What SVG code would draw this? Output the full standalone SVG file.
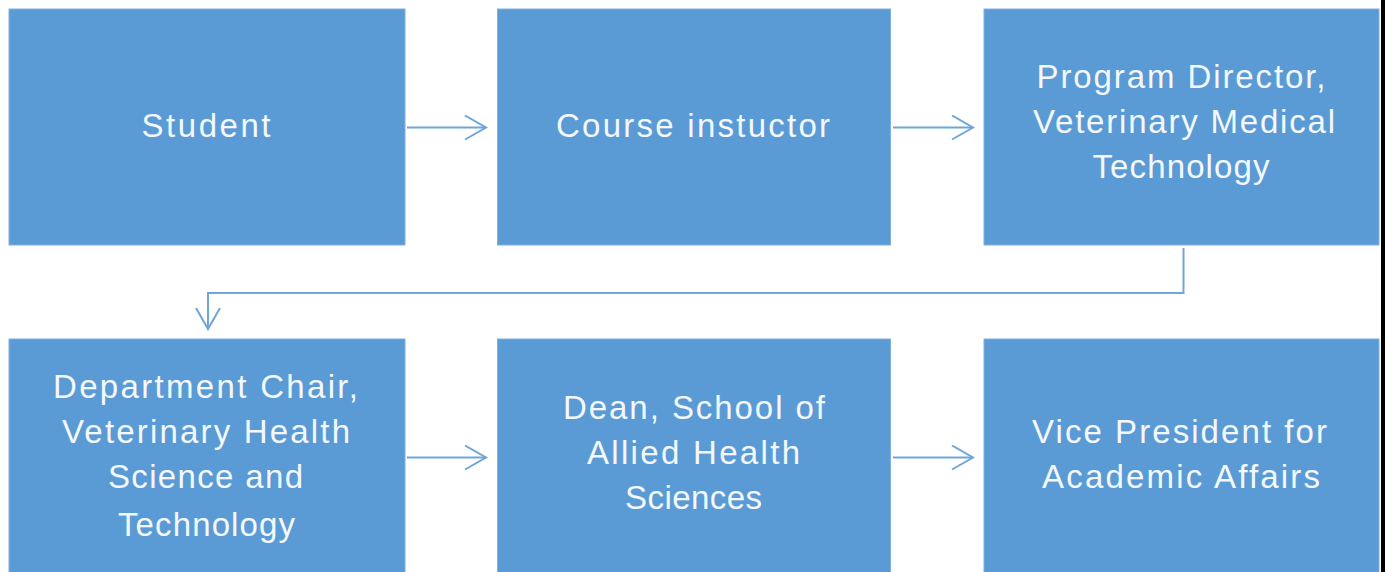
<svg xmlns="http://www.w3.org/2000/svg" width="1385" height="572" viewBox="0 0 1385 572">
<style>
.box{fill:#5B9BD5;stroke:#7FB0DE;stroke-width:1}
.lbl{font-family:"Liberation Sans",Arial,sans-serif;font-size:33px;fill:#F4F8FC;text-anchor:middle}
.conn{fill:none;stroke:#6FA5D9;stroke-width:2}
</style>
<defs>
<marker id="chev" viewBox="0 0 24 26" refX="22" refY="13" markerWidth="24" markerHeight="26" markerUnits="userSpaceOnUse" orient="auto">
<polyline points="1,1 22,13 1,25" fill="none" stroke="#6FA5D9" stroke-width="2"/>
</marker>
</defs>
<rect x="0" y="0" width="1385" height="572" fill="#FFFFFF"/>
<g id="connectors">
<line class="conn" x1="407" y1="127.5" x2="486" y2="127.5" marker-end="url(#chev)"/>
<line class="conn" x1="893" y1="127.5" x2="973" y2="127.5" marker-end="url(#chev)"/>
<polyline class="conn" points="1183.5,248 1183.5,293 208,293 208,329" marker-end="url(#chev)"/>
<line class="conn" x1="407" y1="457.5" x2="486" y2="457.5" marker-end="url(#chev)"/>
<line class="conn" x1="893" y1="457.5" x2="973" y2="457.5" marker-end="url(#chev)"/>
</g>
<g id="student">
<rect class="box" x="9" y="9" width="396" height="236"/>
<text class="lbl" x="206" y="137" textLength="129" lengthAdjust="spacing">Student</text>
</g>
<g id="course-instructor">
<rect class="box" x="497.5" y="9" width="393" height="236"/>
<text class="lbl" x="693" y="137" textLength="274" lengthAdjust="spacing">Course instuctor</text>
</g>
<g id="program-director">
<rect class="box" x="984" y="9" width="395" height="236"/>
<text class="lbl" x="1181" y="88" textLength="289" lengthAdjust="spacing">Program Director,</text>
<text class="lbl" x="1184" y="133" textLength="302" lengthAdjust="spacing">Veterinary Medical</text>
<text class="lbl" x="1181" y="178" textLength="177" lengthAdjust="spacing">Technology</text>
</g>
<g id="department-chair">
<rect class="box" x="9" y="339" width="396" height="240"/>
<text class="lbl" x="205.5" y="398" textLength="305" lengthAdjust="spacing">Department Chair,</text>
<text class="lbl" x="206" y="443" textLength="288" lengthAdjust="spacing">Veterinary Health</text>
<text class="lbl" x="205.5" y="488" textLength="195" lengthAdjust="spacing">Science and</text>
<text class="lbl" x="206.5" y="536" textLength="177" lengthAdjust="spacing">Technology</text>
</g>
<g id="dean">
<rect class="box" x="497.5" y="339" width="393" height="240"/>
<text class="lbl" x="694" y="419" textLength="262" lengthAdjust="spacing">Dean, School of</text>
<text class="lbl" x="693.5" y="464" textLength="213" lengthAdjust="spacing">Allied Health</text>
<text class="lbl" x="693.5" y="509" textLength="137" lengthAdjust="spacing">Sciences</text>
</g>
<g id="vice-president">
<rect class="box" x="984" y="339" width="395" height="240"/>
<text class="lbl" x="1179.5" y="443" textLength="295" lengthAdjust="spacing">Vice President for</text>
<text class="lbl" x="1181" y="488" textLength="278" lengthAdjust="spacing">Academic Affairs</text>
</g>
<rect x="1381" y="0" width="4" height="572" fill="#000000"/>
</svg>
